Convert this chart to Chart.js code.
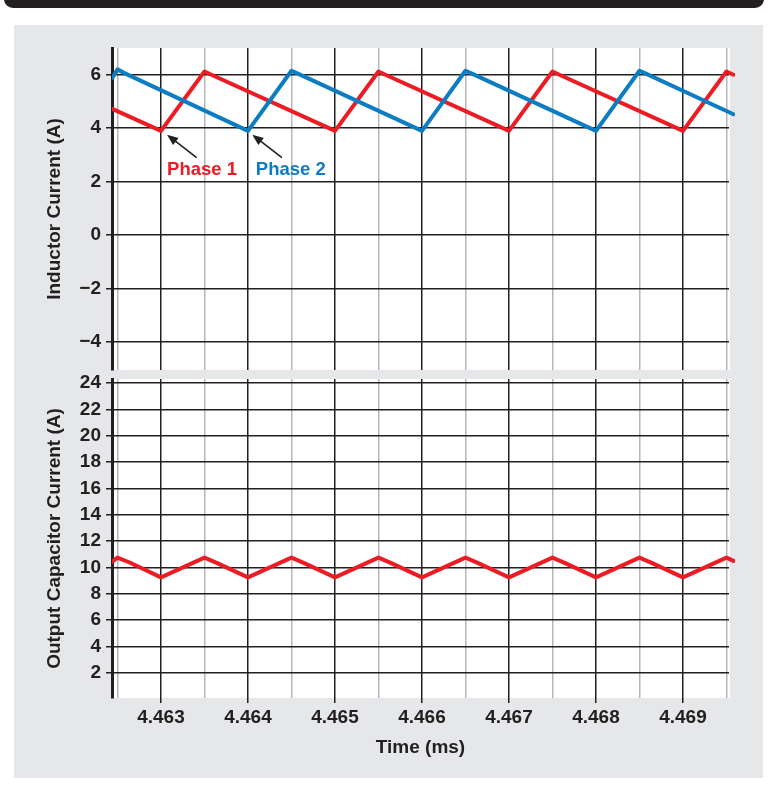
<!DOCTYPE html>
<html>
<head>
<meta charset="utf-8">
<script src="https://cdn.jsdelivr.net/npm/chart.js@4/dist/chart.umd.min.js"></script>
<style>
  body { margin: 0; background: #fff; width: 773px; height: 792px; position: relative; overflow: hidden; }
  .topbar { position: absolute; left: 4px; top: -10px; width: 760px; height: 18px; background: #231f20; border-radius: 10px; }
  .panel { position: absolute; left: 14px; top: 25px; width: 749px; height: 753px; background: #e6e7e8; }
  canvas { position: absolute; left: 0; }
  #topChart { top: 0; }
  #bottomChart { top: 372px; }
</style>
</head>
<body>
<div class="topbar"></div>
<div class="panel"></div>
<canvas id="topChart" width="773" height="372"></canvas>
<canvas id="bottomChart" width="773" height="420"></canvas>
<script>
// time axis (ms)
const xMajorTicks = [4.463, 4.464, 4.465, 4.466, 4.467, 4.468, 4.469];
const xMinorTicks = [4.4625, 4.4635, 4.4645, 4.4655, 4.4665, 4.4675, 4.4685, 4.4695];
const inductorTicks = [-4, -2, 0, 2, 4, 6];
const capTicks = [2, 4, 6, 8, 10, 12, 14, 16, 18, 20, 22, 24];

// Phase 1 inductor current (red)
const timeP1 = [4.46244, 4.463, 4.4635, 4.46358, 4.465, 4.4655, 4.46558, 4.467, 4.4675, 4.46758, 4.469, 4.4695, 4.46958];
const phase1 = [4.72, 3.9, 6.12, 6.0, 3.9, 6.12, 6.0, 3.9, 6.12, 6.0, 3.9, 6.12, 6.0];

// Phase 2 inductor current (blue)
const timeP2 = [4.46244, 4.4625, 4.46258, 4.464, 4.4645, 4.46458, 4.466, 4.4665, 4.46658, 4.468, 4.4685, 4.46858, 4.46958];
const phase2 = [5.88, 6.2, 6.06, 3.9, 6.15, 6.03, 3.9, 6.15, 6.03, 3.9, 6.15, 6.03, 4.52];

// output capacitor current (red)
const timeCap = [4.46244, 4.4625, 4.46264, 4.463, 4.4635, 4.46364, 4.464, 4.4645, 4.46464, 4.465,
  4.4655, 4.46564, 4.466, 4.4665, 4.46664, 4.467, 4.4675, 4.46764, 4.468, 4.4685, 4.46864, 4.469, 4.4695, 4.46958];
const capCurrent = [10.45, 10.75, 10.38, 9.25, 10.75, 10.35, 9.25, 10.75, 10.35, 9.25,
  10.75, 10.35, 9.25, 10.75, 10.35, 9.25, 10.75, 10.35, 9.25, 10.75, 10.35, 9.25, 10.75, 10.5];

const RED = "#ec1c24";
const BLUE = "#0d7dc3";
const INK = "#231f20";
const MINOR = "#b5b7ba";
const xMin = 4.462437, xMax = 4.469529;

const fontTick = { family: "'Liberation Sans', Arial, sans-serif", size: 19, weight: "bold", lineHeight: 1.2 };
const fontTitle = { family: "'Liberation Sans', Arial, sans-serif", size: 19, weight: "bold", lineHeight: 1.2 };

function toPoints(xs, ys) {
  return xs.map((x, i) => ({ x: x, y: ys[i] }));
}

function isMajor(v) {
  return xMajorTicks.includes(v);
}

function xTicksAll() {
  return [...xMinorTicks, ...xMajorTicks].sort((a, b) => a - b).map((v) => ({ value: v }));
}

// white plot background
const plotBg = {
  id: "plotBg",
  beforeDraw(chart) {
    const a = chart.chartArea;
    chart.ctx.save();
    chart.ctx.fillStyle = "#fff";
    chart.ctx.fillRect(a.left, a.top, a.right - a.left + 1, a.bottom - a.top);
    chart.ctx.restore();
  },
};

// "Phase 1" / "Phase 2" labels with arrows
const phaseLabels = {
  id: "phaseLabels",
  afterDatasetsDraw(chart) {
    const ctx = chart.ctx;
    const sx = chart.scales.x, sy = chart.scales.y;
    const arrow = (x1, y1, x2, y2) => {
      const ax = sx.getPixelForValue(x1), ay = sy.getPixelForValue(y1);
      const bx = sx.getPixelForValue(x2), by = sy.getPixelForValue(y2);
      const ang = Math.atan2(by - ay, bx - ax);
      ctx.strokeStyle = INK;
      ctx.fillStyle = INK;
      ctx.lineWidth = 1.6;
      ctx.beginPath();
      ctx.moveTo(ax, ay);
      ctx.lineTo(bx - 8 * Math.cos(ang), by - 8 * Math.sin(ang));
      ctx.stroke();
      ctx.beginPath();
      ctx.moveTo(bx, by);
      ctx.lineTo(bx - 11 * Math.cos(ang) + 4.5 * Math.sin(ang), by - 11 * Math.sin(ang) - 4.5 * Math.cos(ang));
      ctx.lineTo(bx - 11 * Math.cos(ang) - 4.5 * Math.sin(ang), by - 11 * Math.sin(ang) + 4.5 * Math.cos(ang));
      ctx.closePath();
      ctx.fill();
    };
    ctx.save();
    arrow(4.46341, 2.9, 4.46307, 3.75);
    arrow(4.46439, 2.9, 4.46405, 3.75);
    ctx.font = "bold 18.5px 'Liberation Sans', Arial, sans-serif";
    ctx.textBaseline = "middle";
    ctx.textAlign = "left";
    ctx.fillStyle = RED;
    ctx.fillText("Phase 1", sx.getPixelForValue(4.46307), sy.getPixelForValue(2.42));
    ctx.fillStyle = BLUE;
    ctx.fillText("Phase 2", sx.getPixelForValue(4.46409), sy.getPixelForValue(2.42));
    ctx.restore();
  },
};

function xScale(showLabels) {
  return {
    type: "linear",
    min: xMin,
    max: xMax,
    afterBuildTicks: (scale) => { scale.ticks = xTicksAll(); },
    afterFit: (scale) => {
      scale.height = showLabels ? 94 : 0;
      scale.paddingLeft = 0;
      scale.paddingRight = 0;
    },
    grid: {
      color: (c) => (isMajor(c.tick.value) ? INK : MINOR),
      lineWidth: 1.5,
      drawTicks: showLabels,
      tickLength: 5,
      tickColor: (c) => (isMajor(c.tick.value) ? INK : "rgba(0,0,0,0)"),
      tickWidth: 1.5,
    },
    border: { display: false },
    ticks: {
      display: showLabels,
      autoSkip: false,
      maxRotation: 0,
      minRotation: 0,
      padding: 3,
      color: INK,
      font: fontTick,
      callback: (v) => (isMajor(v) ? v.toFixed(3) : ""),
    },
    title: {
      display: showLabels,
      text: "Time (ms)",
      color: INK,
      font: fontTitle,
      padding: { top: 0, bottom: 33 },
    },
  };
}

function yScale(min, max, tickList, titleText) {
  return {
    type: "linear",
    min: min,
    max: max,
    afterBuildTicks: (scale) => { scale.ticks = tickList.map((v) => ({ value: v })); },
    afterFit: (scale) => {
      scale.width = 112;
      scale.paddingTop = 0;
      scale.paddingBottom = 0;
    },
    grid: { color: INK, lineWidth: 1.5, tickLength: 6 },
    border: { display: true, color: INK, width: 3 },
    ticks: {
      color: INK,
      font: fontTick,
      padding: 5,
      callback: (v) => (v < 0 ? "\u2212" + Math.abs(v) : String(v)),
    },
    title: {
      display: true,
      text: titleText,
      color: INK,
      font: fontTitle,
      padding: { top: 43, bottom: 0 },
    },
  };
}

const lineStyle = {
  pointRadius: 0,
  borderWidth: 4,
  tension: 0,
  borderJoinStyle: "round",
  borderCapStyle: "round",
  clip: { left: 0, top: 6, right: 6, bottom: 0 },
};

new Chart(document.getElementById("topChart").getContext("2d"), {
  type: "line",
  data: {
    datasets: [
      { label: "Phase 2", data: toPoints(timeP2, phase2), borderColor: BLUE, ...lineStyle },
      { label: "Phase 1", data: toPoints(timeP1, phase1), borderColor: RED, ...lineStyle },
    ],
  },
  options: {
    responsive: false,
    animation: false,
    devicePixelRatio: 1,
    layout: { padding: { left: 0, right: 44, top: 48, bottom: 2 } },
    plugins: { legend: { display: false }, tooltip: { enabled: false } },
    scales: {
      x: xScale(false),
      y: yScale(-5.05, 7.0, inductorTicks, "Inductor Current (A)"),
    },
  },
  plugins: [plotBg, phaseLabels],
});

new Chart(document.getElementById("bottomChart").getContext("2d"), {
  type: "line",
  data: {
    datasets: [
      { label: "Output Capacitor Current", data: toPoints(timeCap, capCurrent), borderColor: RED, ...lineStyle },
    ],
  },
  options: {
    responsive: false,
    animation: false,
    devicePixelRatio: 1,
    layout: { padding: { left: 0, right: 44, top: 7, bottom: 0 } },
    plugins: { legend: { display: false }, tooltip: { enabled: false } },
    scales: {
      x: xScale(true),
      y: yScale(0.1, 24.3, capTicks, "Output Capacitor Current (A)"),
    },
  },
  plugins: [plotBg],
});
</script>
</body>
</html>
